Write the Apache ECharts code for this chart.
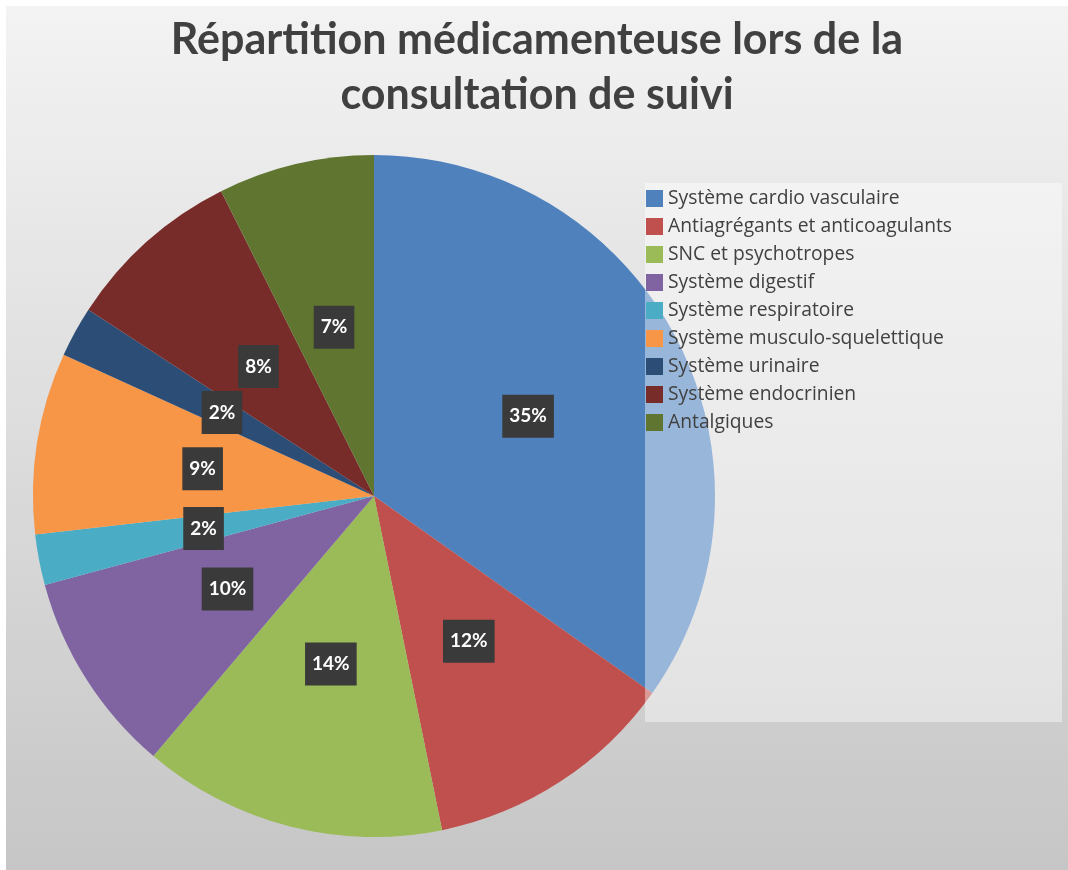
<!DOCTYPE html>
<html>
<head>
<meta charset="utf-8">
<script src="https://cdn.jsdelivr.net/npm/echarts@6/dist/echarts.min.js"></script>
<style>
  html, body { margin: 0; padding: 0; background: #ffffff; }
  #main { position: absolute; left: 6px; top: 6px; width: 1062px; height: 864px; }
</style>
</head>
<body>
<div id="main"></div>
<script>
  // categories and shares (%)
  var categories = [
    'Système cardio vasculaire',
    'Antiagrégants et anticoagulants',
    'SNC et psychotropes',
    'Système digestif',
    'Système respiratoire',
    'Système musculo-squelettique',
    'Système urinaire',
    'Système endocrinien',
    'Antalgiques'
  ];
  var shares = [34.8, 12.0, 14.4, 9.6, 2.4, 8.6, 2.4, 8.4, 7.4];
  var colors = ['#4F81BD', '#C0504D', '#9BBB59', '#8064A2', '#4BACC6',
                '#F79646', '#2C4D75', '#772C2A', '#5F7530'];

  var chart = echarts.init(document.getElementById('main'));

  var pieData = [];
  for (var i = 0; i < categories.length; i++) {
    pieData.push({ name: categories[i], value: shares[i], itemStyle: { color: colors[i] } });
  }

  var option = {
    animation: false,
    backgroundColor: {
      type: 'linear', x: 0, y: 0, x2: 0, y2: 1,
      colorStops: [
        { offset: 0, color: '#f3f3f3' },
        { offset: 1, color: '#c6c6c6' }
      ]
    },
    title: {
      text: 'Répartition médicamenteuse lors de la\nconsultation de suivi',
      left: 'center',
      top: 2,
      textStyle: {
        fontFamily: 'Lato',
        fontWeight: 'bold',
        fontSize: 43,
        lineHeight: 55,
        color: '#404040'
      }
    },
    legend: {
      orient: 'vertical',
      left: 639,
      top: 177,
      itemWidth: 17,
      itemHeight: 17,
      itemGap: 9,
      icon: 'rect',
      padding: [6, 110, 290, 1],
      backgroundColor: 'rgba(255,255,255,0.42)',
      textStyle: { fontFamily: 'Open Sans', fontSize: 19.3, color: '#404040' },
      data: categories
    },
    series: [{
      type: 'pie',
      center: [368, 490],
      radius: 341,
      startAngle: 90,
      clockwise: true,
      z: 1,
      emphasis: { disabled: true },
      label: {
        position: 'inside',
        formatter: function (p) { return Math.round(p.value) + '%'; },
        color: '#ffffff',
        fontFamily: 'Lato',
        fontWeight: 'bold',
        fontSize: 19,
        backgroundColor: '#3a3a3a',
        padding: [12, 7]
      },
      labelLine: { show: false },
      data: pieData
    }]
  };

  chart.setOption(option);
</script>
</body>
</html>
